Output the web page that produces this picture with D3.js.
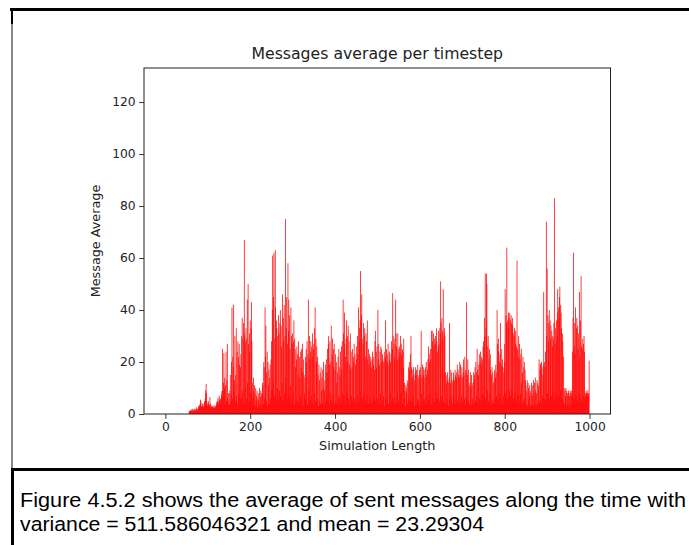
<!DOCTYPE html>
<html>
<head>
<meta charset="utf-8">
<script src="https://cdn.jsdelivr.net/npm/d3@7"></script>
<style>
  html, body { margin: 0; padding: 0; background: #fff; }
  svg { display: block; }
</style>
</head>
<body>
<svg id="fig" width="689" height="545"></svg>
<script>
// Average number of messages sent at each timestep (0..999)
const messageAverage = [
  0,0,0,0,0,0,0,0,0,0,
  0,0,0,0,0,0,0,0,0,0,
  0,0,0,0,0,0,0,0,0,0,
  0,0,0,0,0,0,0,0,0,0,
  0,0,0,0,0,0,0,0,0,0,
  0,0,0,0,0,0,0.8,1.2,1,1.5,
  1,1.5,1.2,2,1,1.8,1.5,1,2,1.3,
  2,1.5,1,2.5,1.8,2,1.2,2.2,3,2.5,
  3.5,2.8,4,5.5,4.8,3,2.5,4,3.2,2.6,
  3,4.2,5,3.5,6,9,11.6,8,4.5,3,
  3.8,5,4.2,2.8,3.5,6.5,4,3,2.5,3.2,
  2.4,3,2.6,2,2.8,3.4,2.2,2.5,3,2.7,
  3.5,4.6,3.8,5,6.2,4,4.8,7,5.5,4.4,
  6,5,7.5,8.8,6,25,9,12,23.5,10,
  14,4,11,24,5,13,27,6,8,4,
  8,3.5,9,15,5,7.8,20,41,6,22,
  18,42,9,13,30,5,15,33,7,24,
  4,28,22,8,27,19,5,18,23,6,
  30,37,9,29,35,4,67,31,10,28,
  33,6,29,44,12,50,27,5,31,24,
  36,8,33,43,28,6,12,9,14,3,
  11,8,3,10,5,7,9,2.5,6,8,
  5.5,3,10,4,6.5,9,2,8,7,12,
  11,4,20,18,6,41,22,34,5,16,
  24,3,20,11,17,4,14,19,6,21,
  28,9,40,61,12,45,62,7,29,63,
  41,5,36,33,10,30,6,38,31,9,
  35,40,7,34,26,12,46,5,37,28,
  42,8,30,75,14,33,45,6,27,58,
  32,44,7,38,25,11,41,30,5,27,
  31,8,28,36,4,29,25,18,6,21,
  26,5,23,15,28,4,22,14,7,24,
  18,25,5,27,16,3,21,15,8,14,
  22,6,25,20,28,4,23,44,9,21,
  30,5,24,28,7,26,22,31,4,25,
  27,8,33,41,5,29,20,26,6,22,
  15,3,19,13,5,16,4,18,9,14,
  4,17,10,20,3,9,13,19,5,16,
  21,6,25,16,27,30,4,19,28,8,
  20,34,5,23,29,7,25,18,27,4,
  17,23,5,20,12,4,16,22,7,25,
  18,6,15,24,4,26,17,28,8,44,
  31,7,39,27,5,22,29,36,9,30,
  20,34,6,28,19,4,31,17,24,7,
  18,25,5,22,20,27,6,23,19,4,
  21,26,7,30,23,41,5,28,33,36,
  55,9,38,46,29,6,27,35,8,30,
  33,5,22,31,28,7,36,21,4,25,
  19,23,6,22,20,4,18,21,24,5,
  22,19,7,17,28,32,5,24,18,26,
  6,40,21,27,4,19,24,8,26,20,
  25,5,23,21,7,20,24,3,22,36,
  21,25,6,23,20,27,4,19,24,21,
  8,20,23,28,5,25,46.5,30,6,27,
  22,29,4,44,31,26,7,21,31,25,
  5,22,26,24,30,8,27,23,4,25,
  24,18,29,6,12,9,3,11,8,10,
  13,4,12,18,6,20,17,5,23,30,
  18,5,17,14,7,18,15,3,13,16,
  18,4,17,15,6,19,14,5,15,17,
  3,18,15,32,8,14,19,5,18,15,
  17,6,14,18,4,20,15,7,17,21,
  26,5,23,20,8,25,21,32,4,32,
  28,6,31,26,29,5,27,30,8,33,
  28,24,6,26,32,27,5,33,31,51,
  35,7,37,32,29,48,5,31,33,30,
  16,4,15,12,6,16,13,3,12,14,
  35,5,12,17,7,16,13,4,12,16,
  14,6,13,17,15,4,14,16,19,5,
  17,15,6,14,20,4,19,15,7,18,
  14,5,16,21,15,6,22,17,4,16,
  43,7,15,21,5,17,11,4,12,16,
  10,3,15,11,6,12,16,4,13,15,
  18,5,20,16,7,25,17,4,15,19,
  23,6,20,24,5,22,19,8,21,26,
  28,7,37,30,54,6,33,54,50,9,
  26,30,5,21,25,8,23,17,4,15,
  18,5,16,12,4,13,17,6,14,19,
  16,7,40,27,5,29,24,8,20,23,
  35,6,19,25,4,21,18,7,16,20,
  27,48,8,38,35,64,6,36,33,39,
  37,9,39,36,7,38,35,10,37,34,
  31,6,30,33,8,32,27,5,26,59,
  25,7,22,30,5,27,21,8,23,25,
  12,4,16,22,5,18,20,6,17,13,
  11,4,9,13,3,12,10,5,7,11,
  9,3,8,12,4,7,11,3,13,8,
  12,4,14,9,3,8,13,4,12,9,
  11,21,5,17,19,19.5,4,20,18,7,
  15,19,47,6,20,18,24,5,74,30,
  56,8,38,28,35,40,6,36,29,34,
  7,32,30,26,9,29,35,83,6,27,
  33,8,36,30,39,48,7,41,37,45,
  49,9,42,39,33,6,31,28,5,22,
  10,4,9,7,10,3,9,7,8,4,
  9,8,3,7,9,8,4,9,7,8,
  24,37,62,6,26,35,23,41,7,33,
  37,5,34,25,31,8,47,22,6,36,
  53,26,5,25,29,7,27,30,24,6,
  8,7,9,8,7,8,9,7,8,20.5
];
const timesteps = messageAverage.map((_, i) => i);

const xTicks = [0, 200, 400, 600, 800, 1000];
const yTicks = [0, 20, 40, 60, 80, 100, 120];

const chartTitle = "Messages average per timestep";
const xLabel = "Simulation Length";
const yLabel = "Message Average";
const captionLines = [
  "Figure 4.5.2 shows the average of sent messages along the time with",
  "variance = 511.586046321 and mean = 23.29304"
];

const svg = d3.select("#fig");
const plot = { left: 144, right: 610.5, top: 68, bottom: 414 };
const barWidth = 0.8;
const barPixelWidth = 0.75;   // bars are narrower than a pixel, keep them visible
const mplFont = "'DejaVu Sans', sans-serif";

const x = d3.scaleLinear()
  .domain([-0.4 - 0.05 * 999.8, 999.4 + 0.05 * 999.8])
  .range([plot.left, plot.right]);
const y = d3.scaleLinear()
  .domain([0, 133.1])
  .range([plot.bottom, plot.top]);

// frame of the document figure
const frame = svg.append("g");
frame.append("line").attr("x1", 10).attr("x2", 689).attr("y1", 9.5).attr("y2", 9.5)
  .attr("stroke", "#000").attr("stroke-width", 3);
frame.append("line").attr("x1", 12).attr("x2", 12).attr("y1", 8).attr("y2", 24)
  .attr("stroke", "#000").attr("stroke-width", 2);
frame.append("line").attr("x1", 12).attr("x2", 12).attr("y1", 24).attr("y2", 469)
  .attr("stroke", "#555").attr("stroke-width", 1.4);
frame.append("line").attr("x1", 11).attr("x2", 689).attr("y1", 469.5).attr("y2", 469.5)
  .attr("stroke", "#000").attr("stroke-width", 3);
frame.append("line").attr("x1", 12.5).attr("x2", 12.5).attr("y1", 468).attr("y2", 545)
  .attr("stroke", "#000").attr("stroke-width", 3);

// bars: one per timestep, centred on x(i), barWidth wide in data units
const barPx = i => Math.max(barPixelWidth, x(i + barWidth / 2) - x(i - barWidth / 2));
svg.append("g")
  .selectAll("rect")
  .data(timesteps)
  .join("rect")
  .attr("x", i => x(i) - barPx(i) / 2)
  .attr("width", barPx)
  .attr("y", i => y(messageAverage[i]))
  .attr("height", i => y(0) - y(messageAverage[i]))
  .attr("fill", "#ff0000");

// axes
const xAxis = svg.append("g")
  .attr("transform", `translate(0,${plot.bottom})`)
  .call(d3.axisBottom(x).tickValues(xTicks).tickSize(4.9).tickPadding(3.5).tickFormat(d3.format("d")));
const yAxis = svg.append("g")
  .attr("transform", `translate(${plot.left},0)`)
  .call(d3.axisLeft(y).tickValues(yTicks).tickSize(4.9).tickPadding(3.5).tickFormat(d3.format("d")));
[xAxis, yAxis].forEach(a => {
  a.select(".domain").remove();
  a.selectAll("text").attr("font-family", mplFont).attr("font-size", 12.3).attr("fill", "#222");
  a.selectAll("line").attr("stroke", "#222").attr("stroke-width", 0.9);
});

// spines
svg.append("rect")
  .attr("x", plot.left).attr("y", plot.top)
  .attr("width", plot.right - plot.left).attr("height", plot.bottom - plot.top)
  .attr("fill", "none").attr("stroke", "#222").attr("stroke-width", 1);

// titles
svg.append("text")
  .attr("x", (plot.left + plot.right) / 2).attr("y", 59)
  .attr("text-anchor", "middle").attr("font-family", mplFont).attr("font-size", 15.7)
  .attr("fill", "#222").text(chartTitle);
svg.append("text")
  .attr("x", (plot.left + plot.right) / 2).attr("y", 450)
  .attr("text-anchor", "middle").attr("font-family", mplFont).attr("font-size", 12.8)
  .attr("fill", "#222").text(xLabel);
svg.append("text")
  .attr("transform", `translate(100,${(plot.top + plot.bottom) / 2}) rotate(-90)`)
  .attr("text-anchor", "middle").attr("font-family", mplFont).attr("font-size", 12.8)
  .attr("fill", "#222").text(yLabel);

// caption, justified to the column width on its first line
const captionWidths = [666, 464];
svg.append("g")
  .selectAll("text")
  .data(captionLines)
  .join("text")
  .attr("x", 20)
  .attr("y", (d, k) => 507 + k * 24)
  .attr("font-family", "'Liberation Sans', Arial, sans-serif")
  .attr("font-size", 20.5)
  .attr("textLength", (d, k) => captionWidths[k])
  .attr("lengthAdjust", "spacingAndGlyphs")
  .attr("fill", "#000")
  .text(d => d);
</script>
</body>
</html>
